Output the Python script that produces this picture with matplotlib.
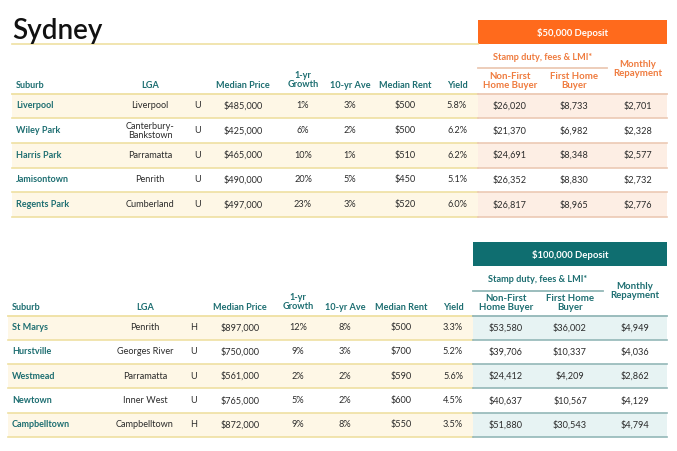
import matplotlib
matplotlib.use("Agg")
import matplotlib.pyplot as plt
from matplotlib.patches import Rectangle

plt.rcParams['font.family'] = ['Lato', 'DejaVu Sans']

# ---- data ----
headers = ["Suburb", "LGA", "", "Median Price", "1-yr\nGrowth", "10-yr Ave",
           "Median Rent", "Yield", "Non-First\nHome Buyer", "First Home\nBuyer"]

suburbs1 = ["Liverpool", "Wiley Park", "Harris Park", "Jamisontown", "Regents Park"]
lga1 = ["Liverpool", "Canterbury-\nBankstown", "Parramatta", "Penrith", "Cumberland"]
type1 = ["U", "U", "U", "U", "U"]
price1 = ["$485,000", "$425,000", "$465,000", "$490,000", "$497,000"]
growth1 = ["1%", "6%", "10%", "20%", "23%"]
ave1 = ["3%", "2%", "1%", "5%", "3%"]
rent1 = ["$500", "$500", "$510", "$450", "$520"]
yield1 = ["5.8%", "6.2%", "6.2%", "5.1%", "6.0%"]
nfhb1 = ["$26,020", "$21,370", "$24,691", "$26,352", "$26,817"]
fhb1 = ["$8,733", "$6,982", "$8,348", "$8,830", "$8,965"]
repay1 = ["$2,701", "$2,328", "$2,577", "$2,732", "$2,776"]

suburbs2 = ["St Marys", "Hurstville", "Westmead", "Newtown", "Campbelltown"]
lga2 = ["Penrith", "Georges River", "Parramatta", "Inner West", "Campbelltown"]
type2 = ["H", "U", "U", "U", "H"]
price2 = ["$897,000", "$750,000", "$561,000", "$765,000", "$872,000"]
growth2 = ["12%", "9%", "2%", "5%", "9%"]
ave2 = ["8%", "3%", "2%", "2%", "8%"]
rent2 = ["$500", "$700", "$590", "$600", "$550"]
yield2 = ["3.3%", "5.2%", "5.6%", "4.5%", "3.5%"]
nfhb2 = ["$53,580", "$39,706", "$24,412", "$40,637", "$51,880"]
fhb2 = ["$36,002", "$10,337", "$4,209", "$10,567", "$30,543"]
repay2 = ["$4,949", "$4,036", "$2,862", "$4,129", "$4,794"]

# ---- colours ----
TEAL_TXT = "#1d6e71"
ORANGE_TXT = "#ef7b3e"
BEIGE = "#fef7e6"
YELLOW_LINE = "#efe0a2"
DARK = "#2b2b2b"

fig = plt.figure(figsize=(6.77, 4.51), dpi=100)
ax = fig.add_axes([0, 0, 1, 1])
ax.set_xlim(0, 677)
ax.set_ylim(451, 0)
ax.axis("off")

ax.text(12, 31, "Sydney", fontsize=20, color="#111111", va="center", ha="left",
        fontweight="semibold")
ax.plot([12, 478], [44, 44], color=YELLOW_LINE, lw=1.2)


def draw_table(cols, left, split, right, box_top, head_y, row_h,
               box_label, box_col, acc_txt, acc_bg, acc_line, hl_y, cols_data):
    # deposit box
    ax.add_patch(Rectangle((split, box_top), right - split, 24, color=box_col, lw=0))
    ax.text((split + right) / 2, box_top + 12.5, box_label, color="white",
            fontsize=6.8, fontweight="bold", ha="center", va="center")
    sd_x = (split + cols[9] + 33) / 2
    ax.text(sd_x, head_y - 28, "Stamp duty, fees & LMI*", color=acc_txt,
            fontsize=6.6, fontweight="bold", ha="center", va="center")
    ax.plot([split, cols[9] + 33], [hl_y, hl_y], color=acc_line, lw=1.3)
    ax.text(cols[10], head_y - 16, "Monthly\nRepayment", color=acc_txt,
            fontsize=6.9, fontweight="bold", ha="center", va="center", linespacing=1.1)
    for i, h in enumerate(headers):
        if i == 0:
            ax.text(cols[0], head_y, h, color=TEAL_TXT, fontsize=6.5,
                    fontweight="bold", ha="left", va="center")
        elif i >= 8:
            ax.text(cols[i], head_y - 4, h, color=acc_txt, fontsize=6.9,
                    fontweight="bold", ha="center", va="center", linespacing=1.1)
        elif "\n" in h:
            ax.text(cols[i], head_y - 5, h, color=TEAL_TXT, fontsize=6.6,
                    fontweight="bold", ha="center", va="center", linespacing=1.1)
        else:
            ax.text(cols[i], head_y, h, color=TEAL_TXT, fontsize=6.6,
                    fontweight="bold", ha="center", va="center")
    top = head_y + 8.5
    ax.plot([left, split], [top, top], color=YELLOW_LINE, lw=1.3)
    ax.plot([split, right], [top, top], color=acc_line, lw=1.3)
    n = len(cols_data[0])
    for r in range(n):
        y0 = top + r * row_h
        if r % 2 == 0:
            ax.add_patch(Rectangle((left, y0), split - left, row_h, color=BEIGE, lw=0))
            ax.add_patch(Rectangle((split, y0), right - split, row_h, color=acc_bg, lw=0))
        ax.plot([left, split], [y0 + row_h, y0 + row_h], color=YELLOW_LINE, lw=1.2)
        ax.plot([split, right], [y0 + row_h, y0 + row_h], color=acc_line, lw=1.2)
        yc = y0 + row_h / 2
        for c, vals in enumerate(cols_data):
            if c == 0:
                ax.text(cols[0], yc, vals[r], color=TEAL_TXT, fontsize=6.5,
                        fontweight="bold", ha="left", va="center")
            else:
                ax.text(cols[c], yc, vals[r], color=DARK, fontsize=6.6,
                        ha="center", va="center", linespacing=1.0)


cols1 = [16, 150, 198, 243, 303, 350, 405, 457, 510, 574, 638]
draw_table(cols1, 12, 478, 667, 20, 85, 24.7, "$50,000 Deposit",
           "#ff6a1c", ORANGE_TXT, "#fdeee4", "#ecc9b4", 68,
           [suburbs1, lga1, type1, price1, growth1, ave1, rent1, yield1,
            nfhb1, fhb1, repay1])

cols2 = [12, 145, 194, 240, 298, 345, 401, 453, 506, 570, 635]
draw_table(cols2, 8, 473, 667, 242, 307, 24.3, "$100,000 Deposit",
           "#0f6e70", TEAL_TXT, "#e7f3f3", "#93b7b8", 291,
           [suburbs2, lga2, type2, price2, growth2, ave2, rent2, yield2,
            nfhb2, fhb2, repay2])

fig.savefig("out.png", dpi=100)
